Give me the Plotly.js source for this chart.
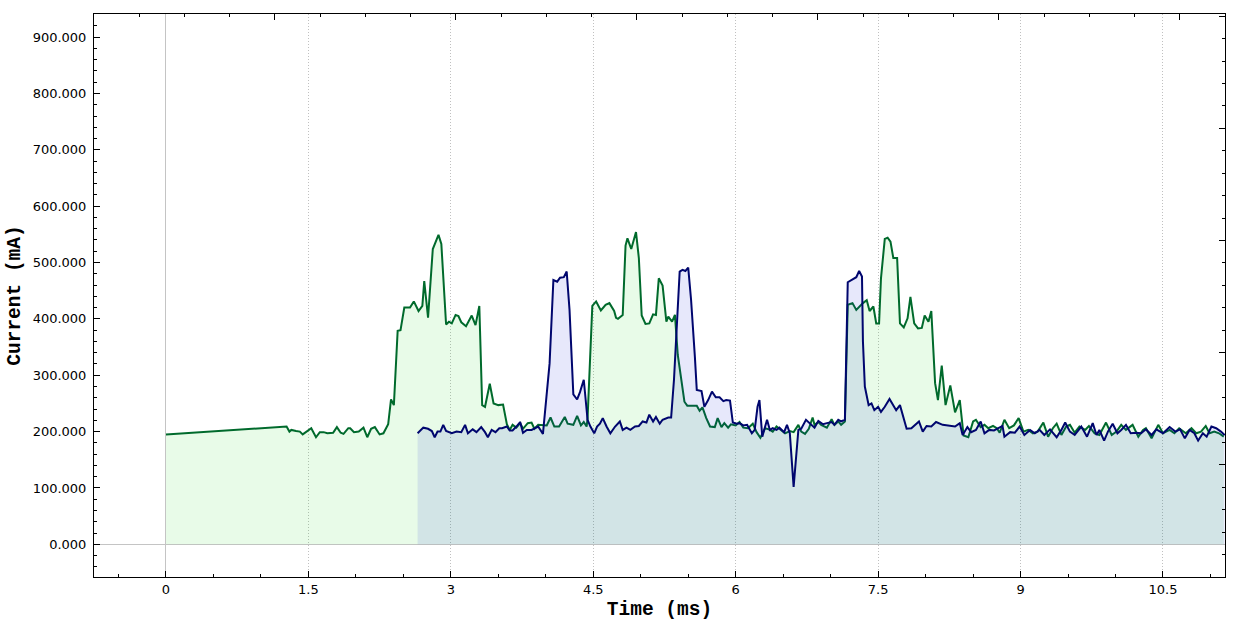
<!DOCTYPE html>
<html>
<head>
<meta charset="utf-8">
<script src="https://cdn.plot.ly/plotly-3.0.1.min.js"></script>
<style>html,body{margin:0;padding:0;background:#fff;}#chart{width:1240px;height:625px;}</style>
</head>
<body>
<div id="chart"></div>
<script>
// Green series (time in ms, current in mA)
var greenTime = [0, 1.27, 1.30, 1.32, 1.37, 1.41, 1.44, 1.49, 1.53, 1.58, 1.62, 1.66, 1.70, 1.76, 1.80, 1.84, 1.87, 1.92, 1.94, 1.98,
  2.03, 2.08, 2.12, 2.16, 2.20, 2.25, 2.29, 2.34, 2.37, 2.40, 2.44, 2.47, 2.51, 2.57, 2.61, 2.66, 2.70, 2.72, 2.76, 2.81,
  2.87, 2.90, 2.95, 2.98, 3.01, 3.05, 3.08, 3.11, 3.16, 3.22, 3.26, 3.30, 3.33, 3.36, 3.41, 3.45, 3.50, 3.55, 3.59, 3.62,
  3.65, 3.69, 3.73, 3.76, 3.81, 3.85, 3.88, 3.92, 3.96, 4.01, 4.05, 4.09, 4.14, 4.20, 4.23, 4.29, 4.33, 4.37, 4.40, 4.43,
  4.44, 4.49, 4.53, 4.58, 4.63, 4.67, 4.72, 4.74, 4.76, 4.81, 4.84, 4.86, 4.90, 4.95, 4.98, 5.01, 5.05, 5.09, 5.13, 5.16,
  5.19, 5.23, 5.27, 5.29, 5.33, 5.36, 5.39, 5.43, 5.46, 5.49, 5.54, 5.59, 5.62, 5.65, 5.69, 5.73, 5.78, 5.81, 5.85, 5.88,
  5.92, 5.95, 6.00, 6.04, 6.08, 6.13, 6.18, 6.22, 6.26, 6.31, 6.35, 6.39, 6.43, 6.47, 6.52, 6.57, 6.61, 6.66, 6.69, 6.73,
  6.77, 6.81, 6.83, 6.87, 6.90, 6.96, 7.01, 7.04, 7.08, 7.11, 7.15, 7.18, 7.23, 7.27, 7.31, 7.34, 7.38, 7.41, 7.45, 7.48,
  7.51, 7.53, 7.57, 7.60, 7.63, 7.66, 7.70, 7.73, 7.77, 7.81, 7.84, 7.88, 7.92, 7.96, 7.99, 8.03, 8.06, 8.10, 8.13, 8.17,
  8.21, 8.26, 8.31, 8.36, 8.40, 8.45, 8.50, 8.53, 8.58, 8.62, 8.66, 8.71, 8.75, 8.78, 8.83, 8.88, 8.93, 8.98, 9.03, 9.08,
  9.13, 9.18, 9.24, 9.29, 9.34, 9.38, 9.43, 9.48, 9.52, 9.57, 9.62, 9.68, 9.72, 9.78, 9.83, 9.90, 9.96, 10.01, 10.06, 10.11,
  10.18, 10.24, 10.29, 10.32, 10.38, 10.45, 10.50, 10.57, 10.62, 10.67, 10.74, 10.80, 10.85, 10.90, 10.95, 10.99, 11.04, 11.09, 11.14];
var greenCurrent = [195, 209, 200, 203, 201, 200, 195, 201, 206, 190, 199, 199, 197, 198, 208, 198, 196, 206, 206, 199,
  200, 207, 190, 205, 208, 195, 197, 213, 257, 247, 379, 380, 420, 420, 431, 414, 423, 467, 402, 524,
  549, 533, 390, 395, 392, 407, 405, 394, 387, 406, 389, 423, 247, 244, 285, 250, 247, 248, 213, 203,
  212, 207, 215, 205, 215, 216, 205, 212, 211, 211, 225, 209, 209, 226, 214, 212, 228, 211, 217, 209,
  224, 423, 431, 415, 425, 428, 414, 402, 400, 407, 530, 543, 524, 554, 508, 406, 391, 392, 408, 407,
  472, 459, 395, 404, 395, 407, 336, 286, 253, 246, 246, 246, 237, 243, 224, 209, 208, 224, 208, 215,
  207, 213, 211, 217, 207, 206, 214, 199, 189, 206, 204, 200, 209, 203, 197, 201, 199, 212, 200, 196,
  205, 225, 212, 217, 212, 207, 222, 212, 218, 212, 218, 425, 428, 416, 424, 428, 433, 414, 422, 392,
  392, 472, 542, 544, 537, 508, 508, 392, 385, 401, 439, 392, 383, 384, 406, 395, 414, 286, 256, 317,
  247, 282, 234, 256, 193, 190, 218, 221, 208, 212, 206, 210, 206, 198, 221, 206, 211, 224, 200, 203,
  197, 200, 216, 191, 206, 214, 194, 209, 212, 198, 209, 203, 210, 197, 194, 216, 194, 200, 212, 203,
  212, 191, 203, 206, 188, 212, 197, 203, 197, 206, 197, 206, 197, 200, 210, 197, 200, 197, 191];

// Blue series (time in ms, current in mA)
var blueTime = [2.65, 2.71, 2.76, 2.80, 2.83, 2.86, 2.89, 2.92, 2.95, 3.01, 3.06, 3.11, 3.15, 3.18, 3.23, 3.27, 3.32, 3.36, 3.39, 3.43,
  3.47, 3.51, 3.54, 3.59, 3.62, 3.65, 3.69, 3.73, 3.76, 3.80, 3.85, 3.88, 3.92, 3.97, 4.01, 4.04, 4.08, 4.12, 4.15, 4.19,
  4.22, 4.25, 4.29, 4.33, 4.36, 4.40, 4.44, 4.47, 4.51, 4.54, 4.57, 4.60, 4.64, 4.68, 4.73, 4.78, 4.81, 4.85, 4.89, 4.94,
  4.98, 5.02, 5.06, 5.09, 5.13, 5.16, 5.20, 5.23, 5.29, 5.32, 5.35, 5.38, 5.41, 5.44, 5.47, 5.50, 5.53, 5.57, 5.59, 5.64,
  5.67, 5.71, 5.75, 5.79, 5.83, 5.87, 5.90, 5.94, 5.97, 6.01, 6.04, 6.08, 6.12, 6.17, 6.20, 6.23, 6.25, 6.28, 6.33, 6.36,
  6.39, 6.43, 6.46, 6.51, 6.54, 6.57, 6.61, 6.66, 6.69, 6.74, 6.79, 6.83, 6.87, 6.92, 6.96, 7.01, 7.04, 7.08, 7.11, 7.15,
  7.18, 7.24, 7.27, 7.30, 7.33, 7.34, 7.36, 7.40, 7.43, 7.46, 7.50, 7.53, 7.57, 7.62, 7.66, 7.69, 7.73, 7.80, 7.85, 7.89,
  7.93, 7.97, 8.01, 8.06, 8.11, 8.18, 8.25, 8.31, 8.36, 8.39, 8.44, 8.48, 8.53, 8.58, 8.62, 8.67, 8.72, 8.76, 8.81, 8.83,
  8.89, 8.94, 8.99, 9.04, 9.10, 9.15, 9.20, 9.25, 9.31, 9.38, 9.43, 9.47, 9.52, 9.57, 9.64, 9.70, 9.76, 9.80, 9.83, 9.88,
  9.92, 9.97, 10.02, 10.06, 10.11, 10.16, 10.22, 10.27, 10.32, 10.38, 10.43, 10.50, 10.57, 10.63, 10.68, 10.73, 10.78, 10.83, 10.87, 10.92,
  10.96, 11.01, 11.06, 11.11, 11.15];
var blueCurrent = [197, 207, 205, 201, 190, 200, 200, 212, 201, 197, 200, 199, 212, 197, 204, 199, 208, 199, 190, 203,
  199, 206, 206, 209, 202, 202, 209, 217, 198, 203, 203, 205, 209, 196, 262, 321, 469, 466, 473, 474,
  484, 416, 266, 257, 270, 292, 221, 209, 197, 209, 214, 224, 209, 197, 209, 218, 203, 207, 203, 209,
  210, 218, 216, 230, 218, 226, 214, 221, 225, 225, 292, 401, 484, 487, 485, 491, 434, 333, 274, 272,
  244, 256, 271, 261, 261, 254, 256, 255, 216, 214, 215, 211, 212, 197, 203, 244, 256, 191, 221, 203,
  206, 203, 207, 199, 212, 197, 102, 203, 205, 221, 214, 207, 219, 213, 215, 217, 212, 221, 218, 221,
  465, 471, 474, 485, 475, 360, 280, 247, 250, 238, 244, 235, 244, 258, 247, 238, 247, 205, 206, 212,
  218, 200, 210, 209, 217, 212, 210, 209, 215, 194, 208, 199, 203, 218, 197, 203, 202, 205, 210, 191,
  199, 198, 209, 194, 203, 197, 203, 194, 204, 190, 203, 216, 200, 194, 209, 191, 215, 194, 203, 184,
  200, 214, 197, 203, 212, 197, 198, 197, 204, 194, 204, 197, 208, 200, 204, 188, 203, 197, 184, 197,
  191, 209, 206, 200, 194];

// Axis tick settings
var xTickStep = 1.5;
var yTickStep = 100;

var traces = [
  {
    x: greenTime, y: greenCurrent, type: 'scatter', mode: 'lines',
    line: {color: '#006a2c', width: 2},
    fill: 'tozeroy', fillcolor: 'rgba(0,210,0,0.09)',
    hoverinfo: 'x+y', showlegend: false
  },
  {
    x: blueTime, y: blueCurrent, type: 'scatter', mode: 'lines',
    line: {color: '#00066e', width: 2},
    fill: 'tozeroy', fillcolor: 'rgba(20,30,220,0.1)',
    hoverinfo: 'x+y', showlegend: false
  },
  {x: [], y: [], xaxis: 'x2', yaxis: 'y2', type: 'scatter', mode: 'lines', showlegend: false, hoverinfo: 'skip'}
];

var tickFont = {family: 'DejaVu Sans, Verdana, sans-serif', size: 13, color: '#000'};
var titleFont = {family: 'Liberation Mono, Courier New, monospace', size: 19.5, color: '#000', weight: 'bold'};

var layout = {
  width: 1240, height: 625,
  margin: {l: 94, r: 15, t: 14, b: 48, pad: 0},
  paper_bgcolor: '#fff', plot_bgcolor: '#fff',
  showlegend: false,
  xaxis: {
    range: [-0.758, 11.153], autorange: false,
    tick0: 0, dtick: xTickStep,
    ticks: 'inside', ticklen: 6, tickwidth: 1, tickcolor: '#000',
    minor: {dtick: 0.5, tick0: 0, ticks: 'inside', ticklen: 3, tickcolor: '#000', showgrid: false},
    showgrid: true, gridcolor: '#c0c0c0', griddash: '1px,2px', gridwidth: 1,
    zeroline: true, zerolinecolor: '#c4c4c4', zerolinewidth: 1,
    showline: true, linecolor: '#000', linewidth: 1, mirror: true,
    tickfont: tickFont,
    title: {text: 'Time (ms)', font: titleFont, standoff: 5}
  },
  yaxis: {
    range: [-58, 941], autorange: false,
    tick0: 0, dtick: yTickStep, tickformat: '.3f',
    ticks: 'inside', ticklen: 6, tickwidth: 1, tickcolor: '#000',
    minor: {dtick: 20, tick0: 0, ticks: 'inside', ticklen: 3, tickcolor: '#000', showgrid: false},
    showgrid: false,
    zeroline: true, zerolinecolor: '#c4c4c4', zerolinewidth: 1,
    showline: true, linecolor: '#000', linewidth: 1, mirror: true,
    tickfont: tickFont, ticklabelstandoff: 4,
    title: {text: 'Current (mA)', font: titleFont, standoff: 6}
  },
  xaxis2: {
    overlaying: 'x', side: 'top', range: [0, 25], autorange: false,
    tick0: 0, dtick: 4, ticks: 'inside', ticklen: 6, tickcolor: '#000',
    minor: {dtick: 1, ticks: 'inside', ticklen: 3, tickcolor: '#000', showgrid: false},
    showticklabels: false, showgrid: false, zeroline: false, showline: false
  },
  yaxis2: {
    overlaying: 'y', side: 'right', range: [0, 25.1], autorange: false,
    tick0: 0, dtick: 5, ticks: 'inside', ticklen: 6, tickcolor: '#000',
    minor: {dtick: 1, ticks: 'inside', ticklen: 3, tickcolor: '#000', showgrid: false},
    showticklabels: false, showgrid: false, zeroline: false, showline: false
  }
};

Plotly.newPlot('chart', traces, layout, {displayModeBar: false, staticPlot: true});
</script>
</body>
</html>
